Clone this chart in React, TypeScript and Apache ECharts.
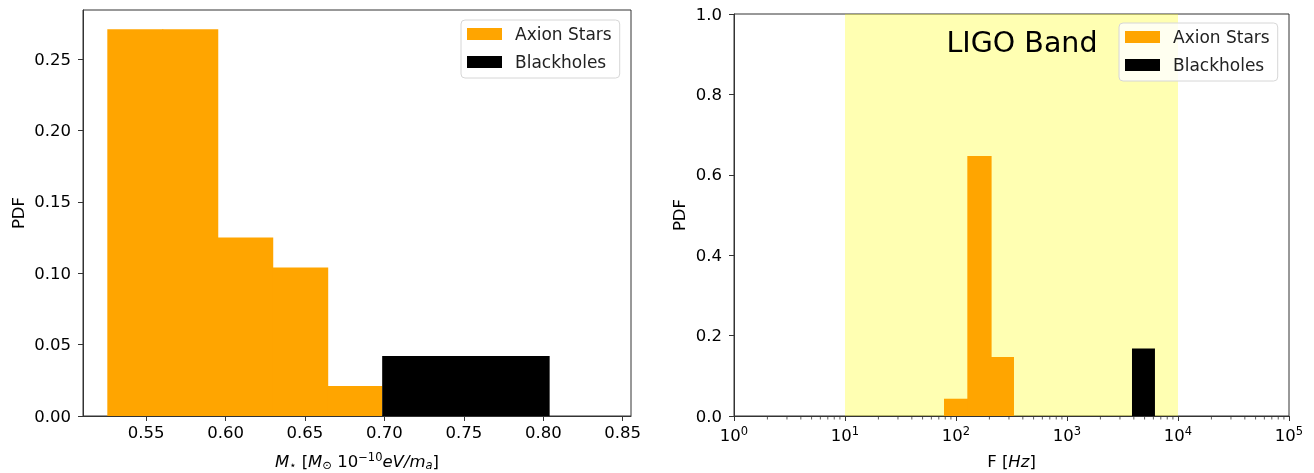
import React, { useEffect, useRef } from "react";
import * as echarts from "echarts";

// ---- data ----
const seriesNames = ["Axion Stars", "Blackholes"];
// left panel: mass histogram (bin edges, heights)
const massAxionEdges = [0.5256, 0.5602, 0.5948, 0.6294, 0.664, 0.6986];
const massAxionPdf = [0.271, 0.271, 0.125, 0.104, 0.021];
const massBHEdges = [0.6986, 0.804];
const massBHPdf = [0.042];
const massTicks = [0.55, 0.6, 0.65, 0.7, 0.75, 0.8, 0.85];
// right panel: frequency histogram (bin edges in Hz, heights)
const freqAxionEdges = [78, 126.5, 205, 333];
const freqAxionPdf = [0.043, 0.647, 0.147];
const freqBHEdges = [3850, 6200];
const freqBHPdf = [0.168];
const ligoBand = [10, 10000];
const decades = [0, 1, 2, 3, 4];
const minorMultipliers = [2, 3, 4, 5, 6, 7, 8, 9];

const FONT = "DejaVu Sans";
const ORANGE = "#FFA500";
const BLACK = "#000000";
const AXIS = "#333333";
const FS = 16.5;

function toBins(edges: number[], vals: number[]) {
  return vals.map((v, i) => [edges[i], edges[i + 1], v, i === vals.length - 1 ? 1 : 0]);
}

const histRender = (color: string) => (params: any, api: any) => {
  const p0 = api.coord([api.value(0), 0]);
  const p1 = api.coord([api.value(1), api.value(2)]);
  const isLast = api.value(3) === 1;
  // overlap into the next bin slightly so that adjacent bins show no seam
  const w = p1[0] - p0[0] + (isLast ? 0 : 1);
  return {
    type: "rect",
    shape: { x: p0[0], y: p1[1], width: w, height: p0[1] - p1[1] },
    style: { fill: color },
  };
};

const richText = {
  i: { fontStyle: "italic", fontSize: FS, fontFamily: FONT, lineHeight: 20, color: "#000" },
  n: { fontSize: FS, fontFamily: FONT, lineHeight: 20, color: "#000" },
  sub: { fontSize: 11.5, fontFamily: FONT, verticalAlign: "bottom", lineHeight: 12, color: "#000" },
  subi: { fontSize: 11.5, fontStyle: "italic", fontFamily: FONT, verticalAlign: "bottom", lineHeight: 12, color: "#000" },
  sup: { fontSize: 11.5, fontFamily: FONT, verticalAlign: "top", lineHeight: 9, color: "#000" },
};

export default function App() {
  const ref = useRef<HTMLDivElement>(null);
  useEffect(() => {
    const chart = echarts.init(ref.current!, undefined, { renderer: "svg" });
    const minorTicks: number[][] = [];
    decades.forEach((d) => minorMultipliers.forEach((m) => minorTicks.push([m * Math.pow(10, d)])));

    const legendCommon = {
      orient: "vertical",
      icon: "rect",
      itemWidth: 35,
      itemHeight: 12,
      itemGap: 8,
      backgroundColor: "rgba(255,255,255,0.8)",
      borderColor: "#d6d6d6",
      borderWidth: 1,
      borderRadius: 4,
      padding: [4, 8, 6, 6],
      selectedMode: false,
      textStyle: { fontFamily: FONT, fontSize: 17, color: "#222", padding: [0, 0, 0, 8], lineHeight: 20 },
      data: seriesNames,
    };

    const axisLineStyle = { lineStyle: { color: AXIS, width: 1 } };

    chart.setOption({
      animation: false,
      textStyle: { fontFamily: FONT },
      grid: [
        { left: 83, top: 10, width: 548, height: 406, show: true, borderColor: AXIS, borderWidth: 1, backgroundColor: "transparent", containLabel: false, outerBoundsMode: "none" },
        { left: 734, top: 14, width: 555, height: 402, show: true, borderColor: AXIS, borderWidth: 1, backgroundColor: "transparent", containLabel: false, outerBoundsMode: "none" },
      ],
      legend: [
        { ...legendCommon, left: 461, top: 20 },
        { ...legendCommon, left: 1119, top: 23 },
      ],
      xAxis: [
        {
          type: "value",
          gridIndex: 0,
          min: 0.5103,
          max: 0.8552,
          splitLine: { show: false },
          axisLine: { show: true, onZero: false, ...axisLineStyle },
          axisTick: { show: true, length: 5, lineStyle: { color: AXIS }, customValues: massTicks },
          axisLabel: {
            customValues: massTicks,
            formatter: (v: number) => v.toFixed(2),
            fontSize: FS,
            fontFamily: FONT,
            color: "#000",
            margin: 8,
          },
          name: "{i|M}{sub|⋆} [{i|M}{sub|⊙} 10{sup|−10}{i|eV/m}{subi|a}]",
          nameLocation: "middle",
          nameGap: 35,
          nameTextStyle: { fontSize: FS, fontFamily: FONT, color: "#000", lineHeight: 20, rich: richText },
        },
        {
          type: "log",
          gridIndex: 1,
          logBase: 10,
          min: 1,
          max: 100000,
          splitLine: { show: false },
          axisLine: { show: true, onZero: false, ...axisLineStyle },
          axisTick: { show: true, length: 5, lineStyle: { color: AXIS } },
          axisLabel: {
            formatter: (v: number) => "{n|10}{sup|" + Math.round(Math.log10(v)) + "}",
            fontSize: FS,
            fontFamily: FONT,
            color: "#000",
            margin: 9,
            rich: richText,
          },
          name: "{n|F [}{i|Hz}{n|]}",
          nameLocation: "middle",
          nameGap: 35,
          nameTextStyle: { fontSize: FS, fontFamily: FONT, color: "#000", lineHeight: 20, rich: richText },
        },
      ],
      yAxis: [
        {
          type: "value",
          gridIndex: 0,
          min: 0,
          max: 0.2844,
          interval: 0.05,
          splitLine: { show: false },
          axisLine: { show: true, ...axisLineStyle },
          axisTick: { show: true, length: 5, lineStyle: { color: AXIS } },
          axisLabel: {
            showMaxLabel: false,
            formatter: (v: number) => (Math.abs(v / 0.05 - Math.round(v / 0.05)) < 1e-6 ? v.toFixed(2) : ""),
            fontSize: FS,
            fontFamily: FONT,
            color: "#000",
            margin: 12,
          },
          name: "PDF",
          nameLocation: "middle",
          nameGap: 56,
          nameRotate: 90,
          nameTextStyle: { fontSize: FS, fontFamily: FONT, color: "#000" },
        },
        {
          type: "value",
          gridIndex: 1,
          min: 0,
          max: 1,
          interval: 0.2,
          splitLine: { show: false },
          axisLine: { show: true, ...axisLineStyle },
          axisTick: { show: true, length: 5, lineStyle: { color: AXIS } },
          axisLabel: {
            formatter: (v: number) => v.toFixed(1),
            fontSize: FS,
            fontFamily: FONT,
            color: "#000",
            margin: 12,
          },
          name: "PDF",
          nameLocation: "middle",
          nameGap: 46,
          nameRotate: 90,
          nameTextStyle: { fontSize: FS, fontFamily: FONT, color: "#000" },
        },
      ],
      series: [
        {
          type: "custom",
          name: "Axion Stars",
          xAxisIndex: 0,
          yAxisIndex: 0,
          itemStyle: { color: ORANGE },
          encode: { x: [0, 1], y: 2 },
          data: toBins(massAxionEdges, massAxionPdf),
          renderItem: histRender(ORANGE),
          z: 3,
        },
        {
          type: "custom",
          name: "Blackholes",
          xAxisIndex: 0,
          yAxisIndex: 0,
          itemStyle: { color: BLACK },
          encode: { x: [0, 1], y: 2 },
          data: toBins(massBHEdges, massBHPdf),
          renderItem: histRender(BLACK),
          z: 3,
        },
        {
          type: "custom",
          name: "LIGO band",
          xAxisIndex: 1,
          yAxisIndex: 1,
          encode: { x: [0, 1] },
          data: [ligoBand],
          silent: true,
          renderItem: (params: any, api: any) => {
            const cs = params.coordSys;
            const a = api.coord([api.value(0), 0]);
            const b = api.coord([api.value(1), 0]);
            return {
              type: "rect",
              shape: { x: a[0], y: cs.y, width: b[0] - a[0], height: cs.height },
              style: { fill: "rgba(255,255,0,0.3)" },
            };
          },
          z: 1,
        },
        {
          type: "custom",
          name: "Axion Stars",
          xAxisIndex: 1,
          yAxisIndex: 1,
          itemStyle: { color: ORANGE },
          encode: { x: [0, 1], y: 2 },
          data: toBins(freqAxionEdges, freqAxionPdf),
          renderItem: histRender(ORANGE),
          z: 3,
        },
        {
          type: "custom",
          name: "Blackholes",
          xAxisIndex: 1,
          yAxisIndex: 1,
          itemStyle: { color: BLACK },
          encode: { x: [0, 1], y: 2 },
          data: toBins(freqBHEdges, freqBHPdf),
          renderItem: histRender(BLACK),
          z: 3,
        },
        {
          type: "custom",
          name: "minor ticks",
          xAxisIndex: 1,
          yAxisIndex: 1,
          encode: { x: 0 },
          clip: false,
          silent: true,
          data: minorTicks,
          renderItem: (params: any, api: any) => {
            const p = api.coord([api.value(0), 0]);
            return {
              type: "line",
              shape: { x1: p[0], y1: p[1] + 0.5, x2: p[0], y2: p[1] + 3.5 },
              style: { stroke: AXIS, lineWidth: 0.8 },
            };
          },
          z: 4,
        },
      ],
      graphic: [
        {
          type: "text",
          x: 1022,
          y: 42,
          style: {
            text: "LIGO Band",
            fontSize: 28.5,
            fontFamily: FONT,
            fill: "#000",
            align: "center",
            verticalAlign: "middle",
          },
          z: 10,
        },
      ],
    });
    return () => chart.dispose();
  }, []);
  return <div ref={ref} style={{ position: "fixed", left: 0, top: 0, width: 1314, height: 473 }} />;
}
